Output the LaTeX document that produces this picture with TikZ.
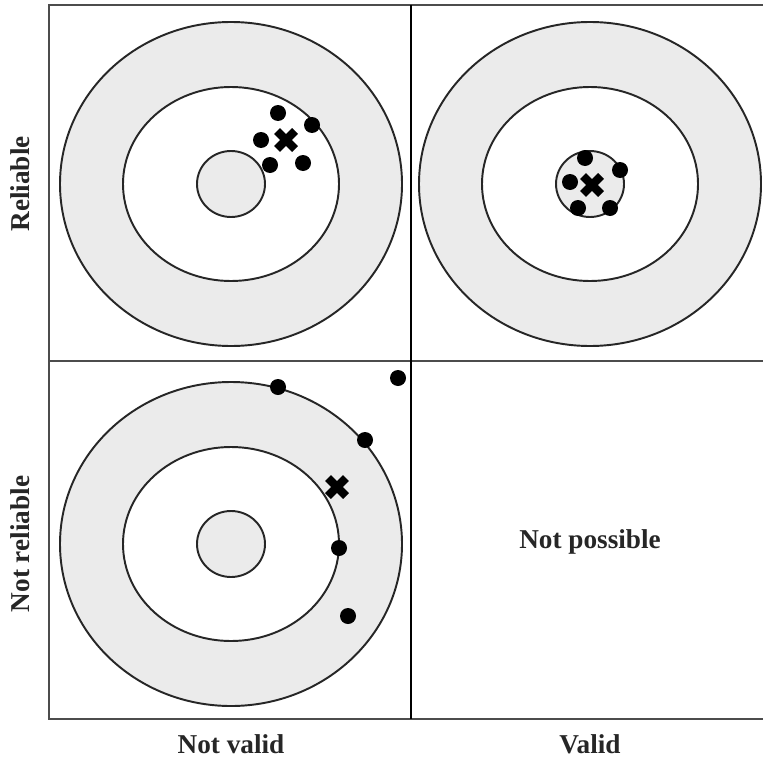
\documentclass[tikz,border=0pt]{standalone}
\usepackage{fontspec}
\setmainfont{Liberation Serif}
\usetikzlibrary{positioning}
\definecolor{ringcol}{RGB}{235,235,235}

\begin{document}
\begin{tikzpicture}[x=0.02cm, y=-0.02cm,
  ring/.style={draw=black!85, line width=1.1pt, fill=#1},
  hit/.style={fill=black},
  aimx/.style={draw=black, line width=4.8pt},
  frm/.style={draw=black!70, line width=1.1pt},
  lbl/.style={font=\fontsize{15.5}{18}\selectfont\bfseries, text=black!85}
]
\useasboundingbox (0,0) rectangle (763,757);

% targets
\foreach \cx/\cy in {231/184, 590/184, 231/544}{
  \draw[ring=ringcol] (\cx,\cy) ellipse [x radius=171, y radius=162];
  \draw[ring=white]   (\cx,\cy) ellipse [x radius=108, y radius=97];
  \draw[ring=ringcol] (\cx,\cy) ellipse [x radius=34, y radius=33];
}

% frame
\draw[frm] (763,5) -- (49,5) -- (49,719) -- (763,719);
\draw[frm] (49,361) -- (763,361);
\draw[black, line width=1.6pt] (411,5) -- (411,719);

% shots
\foreach \x/\y in {278/113, 312/125, 261/140, 270/165, 303/163,
                   585/158, 620/170, 570/182, 578/208, 610/208,
                   278/387, 398/378, 365/440, 339/548, 348/616}
  \fill[hit] (\x,\y) circle [radius=8];

% mean of the shots
\foreach \x/\y in {286/140, 592/185, 337/487}
  \draw[aimx] (\x-9,\y-9) -- (\x+9,\y+9) (\x-9,\y+9) -- (\x+9,\y-9);

\node[lbl, rotate=90] (rel)    at (20,184)  {Reliable};
\node[lbl, rotate=90] (notrel) at (20,544)  {Not reliable};
\node[lbl]            (notval) at (231,744) {Not valid};
\node[lbl]            (val)    at (590,744) {Valid};
\node[lbl]            (notpos) at (590,542) {Not possible};

\end{tikzpicture}
\end{document}
